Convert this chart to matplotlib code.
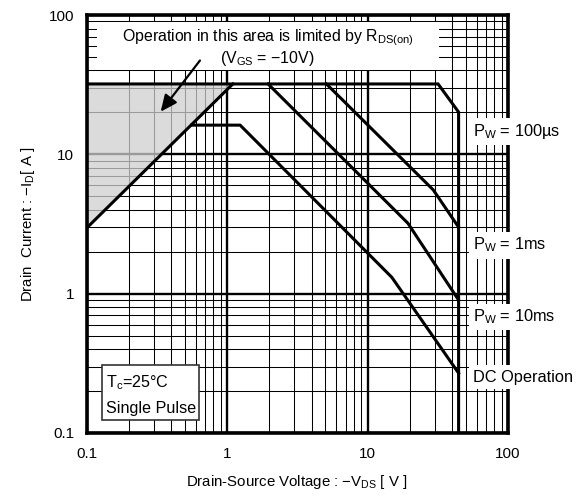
import matplotlib.pyplot as plt
import numpy as np
from matplotlib.patches import Rectangle, Polygon

# safe operating area curves (V, A)
rds_v = [0.1, 1.1]
rds_i = [2.95, 32]

us100_v = [0.1, 31.8, 44.5, 44.5]
us100_i = [32, 32, 20.1, 0.1]

ms1_v = [5.1, 29.4, 44.5]
ms1_i = [32, 5.55, 3.0]

ms10_v = [1.96, 19.4, 44.5]
ms10_i = [32, 3.2, 0.9]

dc_v = [0.56, 1.24, 14.9, 44.5]
dc_i = [16.2, 16.2, 1.31, 0.269]

curve_labels = ['P$\\mathregular{_W}$ = 100µs', 'P$\\mathregular{_W}$ = 1ms',
                'P$\\mathregular{_W}$ = 10ms', 'DC Operation']
label_i = [14.5, 2.23, 0.68, 0.252]

ticks = [0.1, 1, 10, 100]
tick_labels = ['0.1', '1', '10', '100']

plt.rcParams['font.family'] = 'Liberation Sans'
plt.rcParams['mathtext.fontset'] = 'custom'
plt.rcParams['mathtext.rm'] = 'Liberation Sans'

fig = plt.figure(figsize=(5.86, 5.0), dpi=100)
ax = fig.add_axes([86.5 / 586, 67 / 500, 421.5 / 586, 418 / 500])
ax.set_xscale('log')
ax.set_yscale('log')
ax.set_xlim(0.1, 100)
ax.set_ylim(0.1, 100)

# Raster
ax.set_axisbelow(True)
ax.grid(which='minor', color='black', linewidth=0.75)
ax.grid(which='major', color='black', linewidth=1.7)

ax.set_xticks(ticks)
ax.set_xticklabels(tick_labels)
ax.set_yticks(ticks)
ax.set_yticklabels(tick_labels)
ax.tick_params(which='both', length=0, labelsize=11)
ax.tick_params(axis='x', pad=10)
ax.tick_params(axis='y', pad=9)
for sp in ax.spines.values():
    sp.set_linewidth(2.6)

# grauer Bereich (RDS(on) Grenze)
grey = Polygon([(rds_v[0], rds_i[0]), (rds_v[1], rds_i[1]), (rds_v[0], rds_i[1])],
               closed=True, facecolor='#cfcfcf', edgecolor='none', alpha=0.75, zorder=1)
ax.add_patch(grey)

# weisser Kasten fuer die Beschriftung
ax.add_patch(Rectangle((10.5 / 421.5, (433 - 70) / 418), (439 - 97) / 421.5, 48 / 418,
                       transform=ax.transAxes, facecolor='white', edgecolor='none', zorder=1.5))

lw = 2.2
ax.plot(rds_v, rds_i, color='black', lw=lw, zorder=3)
ax.plot(us100_v, us100_i, color='black', lw=lw, zorder=3, solid_joinstyle='miter')
ax.plot(ms1_v, ms1_i, color='black', lw=lw, zorder=3)
ax.plot(ms10_v, ms10_i, color='black', lw=lw, zorder=3)
ax.plot(dc_v, dc_i, color='black', lw=lw, zorder=3)

ax.text(0.43, (433 - 38) / 418, 'Operation in this area is limited by R$\\mathregular{_{DS(on)}}$',
        transform=ax.transAxes, ha='center', va='center', fontsize=11.4, zorder=4)
ax.text(0.43, (433 - 58) / 418, '(V$\\mathregular{_{GS}}$ = \u221210V)',
        transform=ax.transAxes, ha='center', va='center', fontsize=11.4, zorder=4)

ax.annotate('', xy=(0.328, 19.5), xytext=(0.66, 48.9),
            arrowprops=dict(arrowstyle='-|>,head_length=1.0,head_width=0.45',
                            color='black', lw=1.6), zorder=4)

for lab, yi in zip(curve_labels, label_i):
    ax.text(56.4, yi, lab, ha='left', va='center', fontsize=11.8, zorder=6, clip_on=False,
            bbox=dict(facecolor='white', edgecolor='none', pad=3))

# Tc Kasten
ax.add_patch(Rectangle((15.2 / 421.5, 13 / 418), 97.3 / 421.5, 55 / 418, transform=ax.transAxes,
                       facecolor='white', edgecolor='#333333', lw=1.2, zorder=4))
ax.text(19.5 / 421.5, (433 - 383) / 418, 'T$\\mathregular{_c}$=25°C', transform=ax.transAxes,
        ha='left', va='center', fontsize=11.6, zorder=5)
ax.text(19.5 / 421.5, (433 - 409) / 418, 'Single Pulse', transform=ax.transAxes,
        ha='left', va='center', fontsize=11.6, zorder=5)

fig.text(28 / 586, 1 - 224 / 500, 'Drain  Current : \u2212I$\\mathregular{_D}$[ A ]',
         rotation=90, ha='center', va='center', fontsize=10.8)
fig.text(297 / 586, 1 - 482 / 500, 'Drain-Source Voltage : \u2212V$\\mathregular{_{DS}}$ [ V ]',
         ha='center', va='center', fontsize=10.8)

plt.savefig('out.png', dpi=100)
